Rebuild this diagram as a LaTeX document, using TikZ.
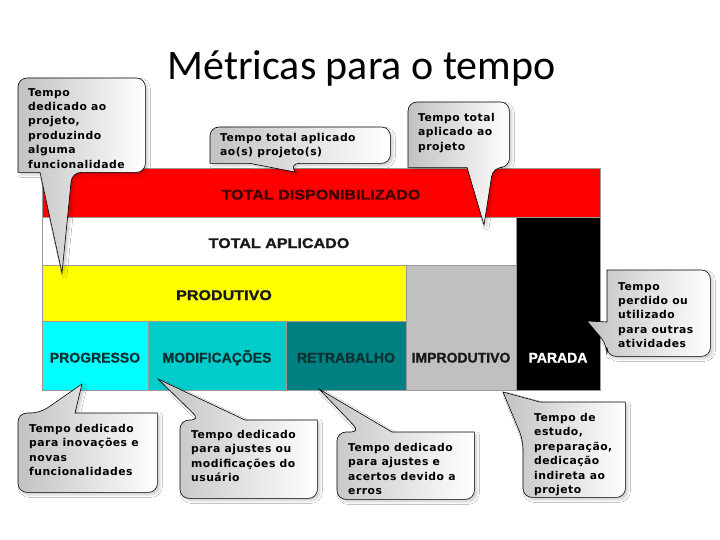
\documentclass[tikz,border=0pt]{standalone}
\usepackage{fontspec}
\setmainfont{Liberation Sans}
\newfontfamily\titlefont{Carlito}
\newfontfamily\tipfont{DejaVu Sans}[LetterSpace=4.5]
\newfontfamily\widefont{Liberation Sans}[FakeStretch=1.15, FakeBold=1.2]
\newfontfamily\barfont{Liberation Sans}[FakeBold=1.2]
\usepackage{xcolor}
\usepackage{tikz}
\usetikzlibrary{positioning,calc,shadows.blur}

\definecolor{barred}{RGB}{255,0,0}
\definecolor{baryellow}{RGB}{255,255,0}
\definecolor{barcyan}{RGB}{0,255,255}
\definecolor{tealmid}{RGB}{0,204,204}
\definecolor{tealdark}{RGB}{0,128,128}
\definecolor{grayimp}{RGB}{192,192,192}
\definecolor{txtred}{RGB}{60,0,0}
\definecolor{txtteal}{RGB}{10,50,50}

\begin{document}
\begin{tikzpicture}[
    x=1pt, y=-1pt,
    bar/.style={draw=black!40, line width=0.4pt, inner sep=0pt,
        text height=14pt, text depth=0pt, text=black!90,
        font=\barfont\fontsize{14}{16}\selectfont\bfseries},
    widebar/.style={bar, font=\widefont\fontsize{14}{16}\selectfont\bfseries},
    tipbox/.style={inner sep=0pt, anchor=north west},
    tiptext/.style={inner sep=0pt, anchor=north west, align=left,
        font=\tipfont\fontsize{10.8}{14.4}\selectfont\bfseries},
    tipshape/.style={draw=black, line width=0.6pt, left color=black!24, right color=white,
        blur shadow={shadow xshift=2.5pt, shadow yshift=-2.5pt,
            shadow blur radius=2.5pt, shadow opacity=20}}
]
    \path[fill=white, use as bounding box] (0,0) rectangle (720,540);

    % Title
    \node[anchor=base, font=\titlefont\fontsize{42}{48}\selectfont] (title) at (361.5,80) {Métricas para o tempo};

    % Bars
    \node[widebar, fill=barred, text=txtred, minimum width=558pt, minimum height=49pt] (disp) at (321,192.5) {TOTAL DISPONIBILIZADO};
    \node[widebar, fill=white, minimum width=474pt, minimum height=48pt] (aplic) at (279,241) {TOTAL APLICADO};
    \node[widebar, fill=baryellow, minimum width=364pt, minimum height=56pt] (prod) at (224,293) {PRODUTIVO};
    \node[bar, fill=grayimp, minimum width=110pt, minimum height=125pt] (improd) at (461,327.5) {};
    \node[bar, fill=black, minimum width=84pt, minimum height=173pt] (parada) at (558,303.5) {};
    \node[bar, fill=barcyan, text=txtteal, minimum width=106pt, minimum height=69pt] (progr) at (95,355.5) {PROGRESSO};
    \node[bar, fill=tealmid, text=txtteal, minimum width=138pt, minimum height=69pt] (modif) at (217,355.5) {MODIFICAÇÕES};
    \node[bar, fill=tealdark, text=txtteal, minimum width=120pt, minimum height=69pt] (retrab) at (346,355.5) {RETRABALHO};
    \node[bar, draw=none] (improdTxt) at (improd |- progr) {IMPRODUTIVO};
    \node[bar, draw=none, text=white] (paradaTxt) at (parada |- progr) {PARADA};

    % Callout: dedicado ao projeto
    \node[tipbox, minimum width=127pt, minimum height=94pt] (cProj) at (18,78) {};
    \coordinate (pProj) at (62,273);
    \path[tipshape] (cProj.north) [rounded corners=9pt] -- (cProj.north east) -- (cProj.south east)
        -- ($(cProj.south west)+(54,0)$) [sharp corners] -- (pProj) -- ($(cProj.south west)+(22,0)$)
        -- (cProj.south west) [rounded corners=9pt] -- (cProj.north west) -- cycle;
    \node[tiptext, below right=10pt and 10pt of cProj.north west] (tProj) {Tempo\\dedicado ao\\projeto,\\produzindo\\alguma\\funcionalidade};

    % Callout: total aplicado ao(s) projeto(s)
    \node[tipbox, minimum width=180pt, minimum height=36pt] (cAplic) at (210,127) {};
    \coordinate (pAplic) at (295,172);
    \path[tipshape] (cAplic.north) [rounded corners=9pt] -- (cAplic.north east) -- (cAplic.south east)
        -- ($(cAplic.south west)+(80,0)$) [sharp corners] -- (pAplic) -- ($(cAplic.south west)+(40,0)$)
        -- (cAplic.south west) [rounded corners=9pt] -- (cAplic.north west) -- cycle;
    \node[tiptext, below right=6pt and 10pt of cAplic.north west] (tAplic) {Tempo total aplicado\\ao(s) projeto(s)};

    % Callout: total aplicado ao projeto
    \node[tipbox, minimum width=101pt, minimum height=65pt] (cTotal) at (408,102) {};
    \coordinate (pTotal) at (484,225);
    \path[tipshape] (cTotal.north) [rounded corners=9pt] -- (cTotal.north east) -- (cTotal.south east)
        -- ($(cTotal.south west)+(85,0)$) [sharp corners] -- (pTotal) -- ($(cTotal.south west)+(59,0)$)
        -- (cTotal.south west) [rounded corners=9pt] -- (cTotal.north west) -- cycle;
    \node[tiptext, below right=11pt and 10pt of cTotal.north west] (tTotal) {Tempo total\\aplicado ao\\projeto};

    % Callout: tempo perdido
    \node[tipbox, minimum width=103pt, minimum height=86pt] (cPerd) at (607,270) {};
    \coordinate (pPerd) at (587,321);
    \path[tipshape] (cPerd.east) [rounded corners=9pt] -- (cPerd.south east) -- (cPerd.south west)
        -- ($(cPerd.north west)+(0,75)$) [sharp corners] -- (pPerd) -- ($(cPerd.north west)+(0,52)$)
        -- (cPerd.north west) [rounded corners=9pt] -- (cPerd.north east) -- cycle;
    \node[tiptext, below right=12pt and 11pt of cPerd.north west] (tPerd) {Tempo\\perdido ou\\utilizado\\para outras\\atividades};

    % Callout: progresso
    \node[tipbox, minimum width=139pt, minimum height=79pt] (cInov) at (18,413) {};
    \coordinate (pInov) at (82,384);
    \path[tipshape] (cInov.south) [rounded corners=9pt] -- (cInov.south west) -- (cInov.north west)
        -- ($(cInov.north west)+(22,0)$) [sharp corners] -- (pInov) -- ($(cInov.north west)+(57,0)$)
        -- (cInov.north east) [rounded corners=9pt] -- (cInov.south east) -- cycle;
    \node[tiptext, below right=11pt and 11pt of cInov.north west] (tInov) {Tempo dedicado\\para inovações e\\novas\\funcionalidades};

    % Callout: modificacoes
    \node[tipbox, minimum width=137pt, minimum height=78pt] (cModif) at (180,420) {};
    \coordinate (pModif) at (158,379);
    \path[tipshape] (cModif.south) [rounded corners=9pt] -- (cModif.south west) -- (cModif.north west)
        -- ($(cModif.north west)+(20,0)$) [sharp corners] -- (pModif) -- ($(cModif.north west)+(65,0)$)
        -- (cModif.north east) [rounded corners=9pt] -- (cModif.south east) -- cycle;
    \node[tiptext, below right=10pt and 11pt of cModif.north west] (tModif) {Tempo dedicado\\para ajustes ou\\modificações do\\usuário};

    % Callout: retrabalho
    \node[tipbox, minimum width=137pt, minimum height=67pt] (cErros) at (337,432) {};
    \coordinate (pErros) at (319,389);
    \path[tipshape] (cErros.south) [rounded corners=9pt] -- (cErros.south west) -- (cErros.north west)
        -- ($(cErros.north west)+(23,0)$) [sharp corners] -- (pErros) -- ($(cErros.north west)+(55,0)$)
        -- (cErros.north east) [rounded corners=9pt] -- (cErros.south east) -- cycle;
    \node[tiptext, below right=11pt and 11pt of cErros.north west] (tErros) {Tempo dedicado\\para ajustes e\\acertos devido a\\erros};

    % Callout: improdutivo
    \node[tipbox, minimum width=102pt, minimum height=95pt] (cEstudo) at (523,402) {};
    \coordinate (pEstudo) at (503,392);
    \path[tipshape] (cEstudo.south) [rounded corners=9pt] -- (cEstudo.south west)
        -- ($(cEstudo.north west)+(0,38)$) [sharp corners] -- (pEstudo) -- ($(cEstudo.north west)+(17,0)$)
        -- (cEstudo.north east) [rounded corners=9pt] -- (cEstudo.south east) -- cycle;
    \node[tiptext, below right=11pt and 11pt of cEstudo.north west] (tEstudo) {Tempo de\\estudo,\\preparação,\\dedicação\\indireta ao\\projeto};
\end{tikzpicture}
\end{document}
